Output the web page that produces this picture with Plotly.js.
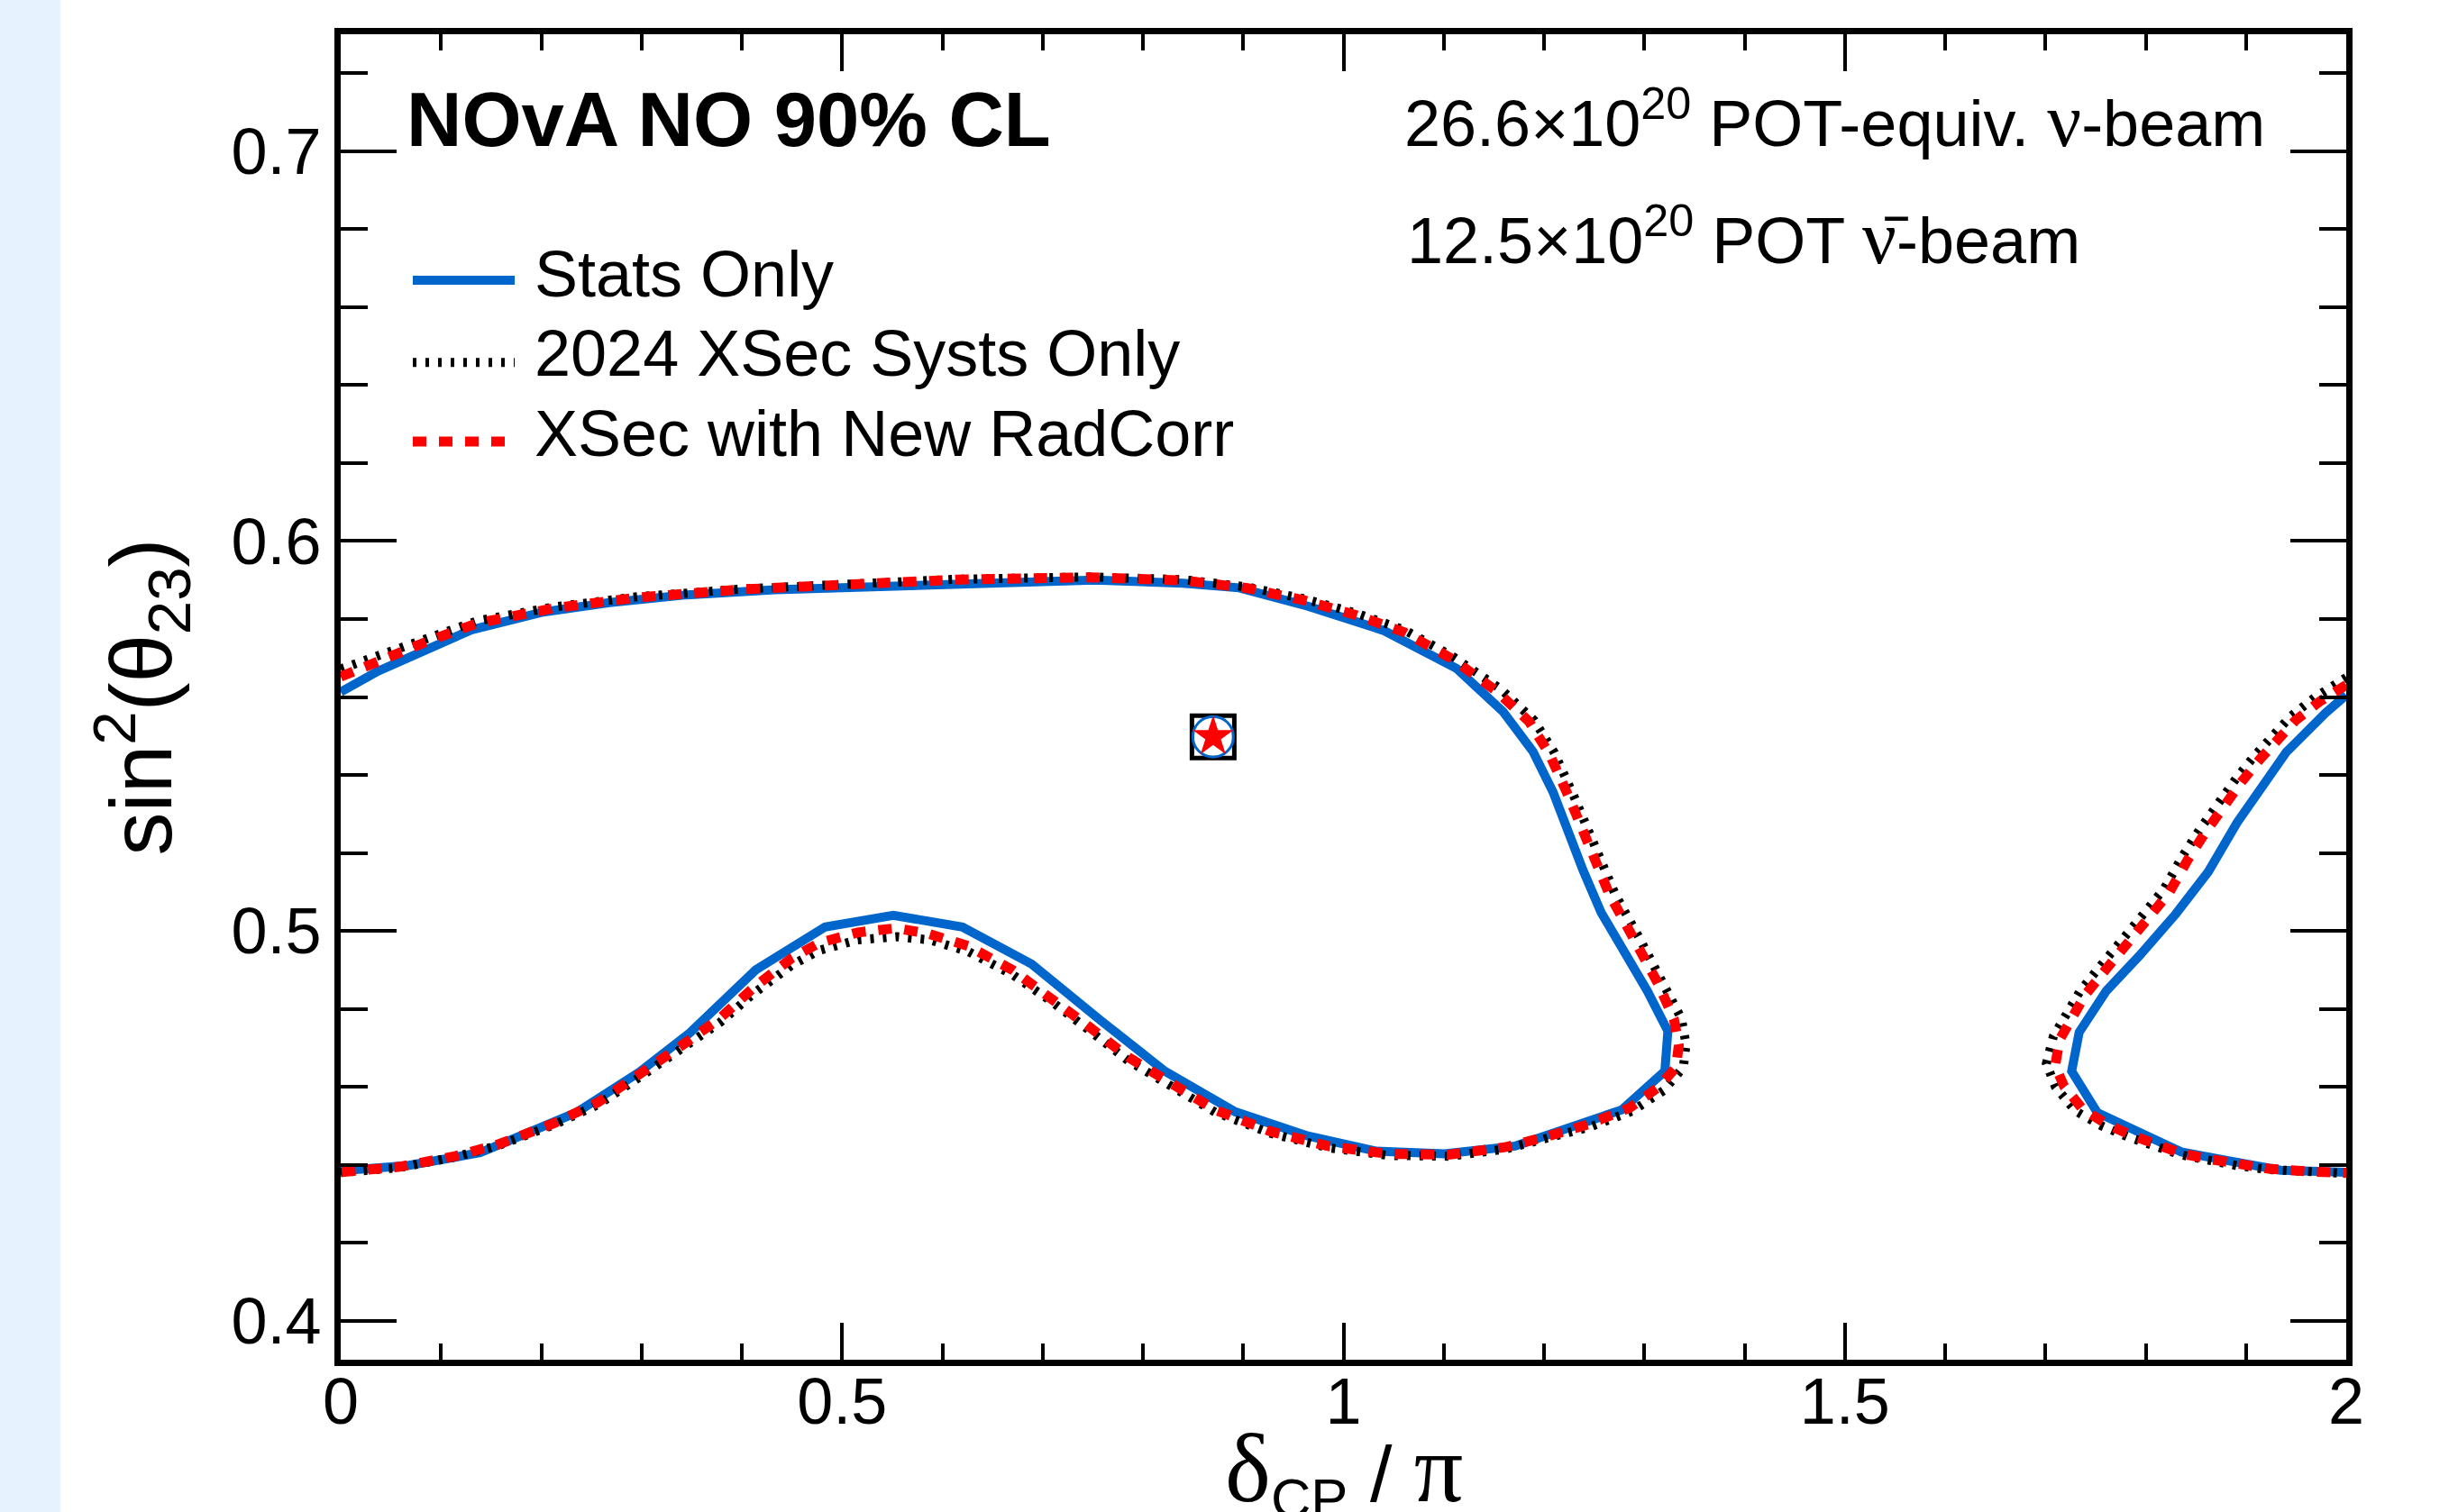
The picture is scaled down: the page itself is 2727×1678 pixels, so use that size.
<!DOCTYPE html>
<html>
<head>
<meta charset="utf-8">
<script src="https://cdn.plot.ly/plotly-3.0.1.min.js"></script>
<style>
  html, body { margin: 0; padding: 0; }
  body { width: 2727px; height: 1678px; overflow: hidden;
         background: linear-gradient(to right, #E6F2FE 0px, #E6F2FE 67px, #ffffff 67px); }
  #chart { width: 2727px; height: 1678px; }
</style>
</head>
<body>
<div id="chart"></div>
<script>
// ---------- data ----------
// Stats Only contour (main island, then null break, then wrapped island near 2π)
const statsX = [0, 0.037, 0.130, 0.202, 0.268, 0.345, 0.433, 0.543, 0.653, 0.752, 0.840, 0.896, 0.9645, 1.0406, 1.1128, 1.159, 1.189, 1.209, 1.239, 1.257, 1.303, 1.3235, 1.3205, 1.2775, 1.171, 1.1008, 1.0325, 0.9645, 0.892, 0.822, 0.758, 0.689, 0.620, 0.551, 0.483, 0.414, 0.348, 0.298, 0.235, 0.139, 0.067, 0,
  null,
  2.0, 1.9794, 1.9404, 1.912, 1.891, 1.8625, 1.8296, 1.7936, 1.7607, 1.7337, 1.7262, 1.7517, 1.7936, 1.8355, 1.8836, 1.9346, 2.0];
const statsY = [0.5613, 0.5666, 0.5772, 0.5818, 0.5842, 0.5862, 0.5875, 0.5885, 0.5895, 0.5900, 0.5892, 0.5880, 0.5833, 0.5770, 0.5673, 0.5563, 0.5460, 0.5356, 0.5155, 0.5047, 0.4846, 0.4743, 0.4640, 0.4541, 0.4448, 0.4428, 0.4435, 0.4474, 0.4536, 0.4640, 0.4770, 0.4915, 0.5010, 0.5040, 0.5010, 0.4900, 0.4738, 0.4638, 0.4534, 0.4431, 0.4398, 0.4385,
  null,
  0.5605, 0.5559, 0.5459, 0.5358, 0.5277, 0.5152, 0.5042, 0.4936, 0.4846, 0.4740, 0.4640, 0.4534, 0.4481, 0.4433, 0.4410, 0.4386, 0.4381];

// 2024 XSec Systs Only contour
const systX = [0, 0.0369, 0.0868, 0.1359, 0.2130, 0.2955, 0.4001, 0.5101, 0.6148, 0.7469, 0.8404, 0.9043, 0.9604, 1.0126, 1.0607, 1.1089, 1.1571, 1.1901, 1.2103, 1.2302, 1.2503, 1.2708, 1.2950, 1.3190, 1.3370, 1.3416, 1.3390, 1.3190, 1.2880, 1.2470, 1.2060, 1.1610, 1.1047, 1.0447, 0.9845, 0.9282, 0.8720, 0.8279, 0.7854, 0.7469, 0.7083, 0.6698, 0.6258, 0.5873, 0.5542, 0.5156, 0.4772, 0.4497, 0.4111, 0.3782, 0.3451, 0.3011, 0.2570, 0.2130, 0.1579, 0.1139, 0.0589, 0,
  null,
  2.0, 1.9683, 1.9444, 1.9265, 1.9085, 1.8905, 1.8725, 1.8546, 1.8366, 1.8186, 1.8006, 1.7826, 1.7526, 1.7347, 1.7190, 1.7080, 1.7010, 1.7100, 1.7300, 1.7560, 1.7820, 1.8100, 1.8357, 1.8627, 1.8926, 1.9227, 1.9616, 2.0];
const systY = [0.5672, 0.5705, 0.5752, 0.5795, 0.5831, 0.5857, 0.5877, 0.5890, 0.5902, 0.5908, 0.5901, 0.5882, 0.5852, 0.5815, 0.5772, 0.5704, 0.5620, 0.5540, 0.5457, 0.5343, 0.5219, 0.5095, 0.4982, 0.4868, 0.4775, 0.4710, 0.4650, 0.4590, 0.4538, 0.4498, 0.4468, 0.4440, 0.4422, 0.4424, 0.4444, 0.4480, 0.4535, 0.4600, 0.4667, 0.4744, 0.4820, 0.4888, 0.4947, 0.4977, 0.4985, 0.4977, 0.4950, 0.4912, 0.4838, 0.4765, 0.4705, 0.4630, 0.4555, 0.4503, 0.4450, 0.4420, 0.4393, 0.4380,
  null,
  0.5650, 0.5598, 0.5550, 0.5502, 0.5449, 0.5392, 0.5330, 0.5263, 0.5191, 0.5109, 0.5052, 0.4999, 0.4903, 0.4846, 0.4784, 0.4730, 0.4660, 0.4600, 0.4538, 0.4500, 0.4472, 0.4448, 0.4425, 0.4412, 0.4397, 0.4388, 0.4381, 0.4378];

// XSec with New RadCorr contour
const radX = [0, 0.0369, 0.0868, 0.1359, 0.2130, 0.2955, 0.4001, 0.5101, 0.6148, 0.7469, 0.8404, 0.9043, 0.9604, 1.0126, 1.0607, 1.1089, 1.1531, 1.1851, 1.2053, 1.2252, 1.2453, 1.2653, 1.2894, 1.3135, 1.3295, 1.3344, 1.3316, 1.3135, 1.2854, 1.2453, 1.2051, 1.1610, 1.1047, 1.0447, 0.9845, 0.9282, 0.8720, 0.8279, 0.7854, 0.7469, 0.7083, 0.6698, 0.6258, 0.5873, 0.5542, 0.5156, 0.4772, 0.4497, 0.4111, 0.3782, 0.3451, 0.3011, 0.2570, 0.2130, 0.1579, 0.1139, 0.0589, 0,
  null,
  2.0, 1.9733, 1.9494, 1.9315, 1.9135, 1.8955, 1.8775, 1.8596, 1.8416, 1.8236, 1.8056, 1.7876, 1.7576, 1.7397, 1.7247, 1.7142, 1.7097, 1.7187, 1.7367, 1.7607, 1.7847, 1.8117, 1.8357, 1.8627, 1.8926, 1.9227, 1.9616, 2.0];
const radY = [0.5652, 0.5693, 0.5743, 0.5789, 0.5828, 0.5855, 0.5876, 0.5889, 0.5901, 0.5907, 0.5899, 0.5879, 0.5848, 0.5810, 0.5766, 0.5697, 0.5614, 0.5537, 0.5454, 0.5341, 0.5217, 0.5093, 0.4980, 0.4866, 0.4774, 0.4707, 0.4650, 0.4598, 0.4546, 0.4505, 0.4474, 0.4445, 0.4426, 0.4428, 0.4448, 0.4485, 0.4541, 0.4608, 0.4676, 0.4753, 0.4830, 0.4900, 0.4961, 0.4992, 0.5007, 0.4996, 0.4969, 0.4930, 0.4853, 0.4776, 0.4715, 0.4638, 0.4561, 0.4507, 0.4453, 0.4422, 0.4395, 0.4381,
  null,
  0.5631, 0.5588, 0.5540, 0.5492, 0.5439, 0.5382, 0.5320, 0.5253, 0.5181, 0.5099, 0.5042, 0.4989, 0.4893, 0.4836, 0.4774, 0.4721, 0.4654, 0.4601, 0.4544, 0.4505, 0.4477, 0.4453, 0.4429, 0.4415, 0.4400, 0.4390, 0.4383, 0.4379];

// best-fit point (same for all three fits)
const bestFitX = [0.870];
const bestFitY = [0.5498];

// series names and axis tick labels
const seriesNames = ["Stats Only", "2024 XSec Systs Only", "XSec with New RadCorr"];
const xTickVals = [0, 0.5, 1, 1.5, 2];
const xTickText = ["0", "0.5", "1", "1.5", "2"];
const yTickVals = [0.4, 0.5, 0.6, 0.7];
const yTickText = ["0.4", "0.5", "0.6", "0.7"];

// ---------- styles ----------
const BLUE = "#0066CC", RED = "#FF0000", BLACK = "#000000";
const SANS = "Liberation Sans, Arial, Helvetica, sans-serif";
const lineStyles = [
  {color: BLUE, width: 10, dash: "solid"},
  {color: BLACK, width: 10, dash: "4px,10px"},
  {color: RED, width: 11, dash: "15px,14px"}
];
const greek = (ch, px) => "<span style=\"font-family:'Liberation Serif';font-size:" + px + "px\">" + ch + "</span>";

const traces = [
  {x: statsX, y: statsY, name: seriesNames[0], mode: "lines", line: lineStyles[0], connectgaps: false, showlegend: false},
  {x: systX, y: systY, name: seriesNames[1], mode: "lines", line: lineStyles[1], connectgaps: false, showlegend: false},
  {x: radX, y: radY, name: seriesNames[2], mode: "lines", line: lineStyles[2], connectgaps: false, showlegend: false},
  {x: bestFitX, y: bestFitY, mode: "markers", showlegend: false,
   marker: {symbol: "square-open", size: 47, color: BLACK, line: {width: 5, color: BLACK}}},
  {x: bestFitX, y: bestFitY, mode: "markers", showlegend: false,
   marker: {symbol: "circle-open", size: 45, color: BLUE, line: {width: 3, color: BLUE}}},
  {x: bestFitX, y: bestFitY, mode: "markers", showlegend: false,
   marker: {symbol: "star", size: 34, color: RED, line: {width: 0}}}
];

// manual legend (long line samples as in the original)
const legX0 = 0.0719, legX1 = 0.1735, legTextX = 0.1915;
const legLineY = [0.6669, 0.6458, 0.6255];
const legTextY = [0.6686, 0.6482, 0.6276];

const shapes = legLineY.map((yy, i) => ({
  type: "line", xref: "x", yref: "y", x0: legX0, x1: legX1, y0: yy, y1: yy,
  line: {color: lineStyles[i].color, width: lineStyles[i].width, dash: lineStyles[i].dash}, layer: "above"
}));

const xTitleText = greek("δ", 108) + "<sub>CP</sub> / " + greek("π", 108);

const annotations = [
  {text: "<b>NOvA NO 90% CL</b>", x: 0.0638, y: 0.7081, xref: "x", yref: "y",
   xanchor: "left", yanchor: "middle", showarrow: false, font: {family: SANS, size: 85, color: BLACK}},
  {text: "26.6×10<sup>20</sup> POT-equiv. " + greek("ν", 84) + "-beam",
   x: 1.059, y: 0.7080, xref: "x", yref: "y", xanchor: "left", yanchor: "middle", showarrow: false,
   font: {family: SANS, size: 72, color: BLACK}},
  {text: "12.5×10<sup>20</sup> POT " + greek("ν̄", 84) + "-beam",
   x: 1.0616, y: 0.6781, xref: "x", yref: "y", xanchor: "left", yanchor: "middle", showarrow: false,
   font: {family: SANS, size: 72, color: BLACK}},
  // x-axis title (as annotation so it may sit low, partly cut by the page edge as in the original)
  {text: xTitleText, x: 0.5, y: -0.0401, xref: "paper", yref: "paper", xanchor: "center", yanchor: "top",
   showarrow: false, font: {family: SANS, size: 88, color: BLACK}}
].concat(seriesNames.map((nm, i) => ({
  text: nm, x: legTextX, y: legTextY[i], xref: "x", yref: "y", xanchor: "left", yanchor: "middle",
  showarrow: false, font: {family: SANS, size: 72, color: BLACK}
})));

const axisCommon = {
  showline: true, linewidth: 7, linecolor: BLACK, mirror: "allticks",
  ticks: "inside", tickwidth: 4, tickcolor: BLACK, showgrid: false, zeroline: false,
  tickfont: {family: SANS, size: 72, color: BLACK}
};

const layout = {
  width: 2727, height: 1678,
  margin: {l: 378, r: 124, t: 38, b: 169, pad: 0},
  paper_bgcolor: "rgba(0,0,0,0)", plot_bgcolor: "#ffffff",
  showlegend: false,
  xaxis: Object.assign({}, axisCommon, {
    range: [0, 2], tickmode: "array", tickvals: xTickVals, ticktext: xTickText, ticklen: 41,
    ticklabelstandoff: -22,
    minor: {dtick: 0.1, tick0: 0, ticklen: 18, tickwidth: 4, tickcolor: BLACK, ticks: "inside", showgrid: false}
  }),
  yaxis: Object.assign({}, axisCommon, {
    range: [0.39, 0.73], tickmode: "array", tickvals: yTickVals, ticktext: yTickText, ticklen: 62,
    minor: {dtick: 0.02, tick0: 0.4, ticklen: 30, tickwidth: 4, tickcolor: BLACK, ticks: "inside", showgrid: false},
    title: {text: "sin<sup>2</sup>(θ<sub>23</sub>)", font: {family: SANS, size: 96, color: BLACK}, standoff: 36}
  }),
  shapes: shapes,
  annotations: annotations
};

Plotly.newPlot("chart", traces, layout, {staticPlot: true, displayModeBar: false});
</script>
</body>
</html>
